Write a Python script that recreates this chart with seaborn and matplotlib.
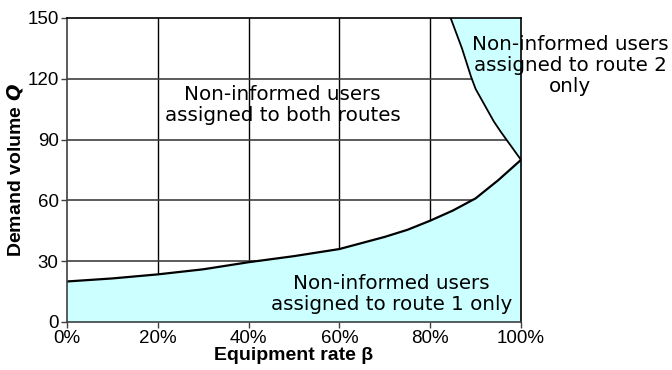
import matplotlib
matplotlib.use("Agg")
import matplotlib.pyplot as plt
import seaborn as sns
import pandas as pd

# Data
beta_low = [0, 10, 20, 30, 40, 50, 60, 65, 70, 75, 80, 85, 90, 95, 100]
q_low = [20, 21.5, 23.5, 26, 29.5, 32.5, 36, 39, 42, 45.5, 50, 55, 61, 70, 80]
beta_up = [84.5, 87, 89, 90, 92, 94, 95.5, 100]
q_up = [150, 135, 121, 115, 107, 99, 94, 80]
x_ticks = [0, 20, 40, 60, 80, 100]
x_tick_labels = ["0%", "20%", "40%", "60%", "80%", "100%"]
y_ticks = [0, 30, 60, 90, 120, 150]

label_both = "Non-informed users\nassigned to both routes"
label_r1 = "Non-informed users\nassigned to route 1 only"
label_r2 = "Non-informed users\nassigned to route 2\nonly"

sns.set_theme(style="white")
plt.rcParams["font.family"] = ["Liberation Sans", "DejaVu Sans"]

fig = plt.figure(figsize=(6.72, 3.70), dpi=100)
ax = fig.add_axes([67 / 672, 48 / 370, 454 / 672, 304 / 370])

df_low = pd.DataFrame({"beta": beta_low, "Q": q_low})
df_up = pd.DataFrame({"beta": beta_up, "Q": q_up})

fill_c = "#CCFFFF"
ax.fill_between(df_low["beta"], 0, df_low["Q"], color=fill_c, zorder=2, lw=0)
ax.fill_betweenx(df_up["Q"], df_up["beta"], 100, color=fill_c, zorder=2, lw=0)

sns.lineplot(data=df_low, x="beta", y="Q", ax=ax, color="black", lw=1.6, zorder=3)
sns.lineplot(data=df_up, x="beta", y="Q", ax=ax, color="black", lw=1.3, zorder=3,
             sort=False)

ax.set_xlim(0, 100)
ax.set_ylim(0, 150)
ax.set_xticks(x_ticks)
ax.set_xticklabels(x_tick_labels)
ax.set_yticks(y_ticks)

for x in x_ticks[1:-1]:
    ax.axvline(x, color="black", lw=1.0, zorder=1)
for y in y_ticks[1:-1]:
    ax.axhline(y, color="#404040", lw=1.2, zorder=1)

for s in ax.spines.values():
    s.set_color("black")
    s.set_linewidth(1.2)
    s.set_zorder(4)
ax.spines["left"].set_color("#404040")
ax.spines["bottom"].set_color("#404040")

ax.tick_params(axis="both", which="major", direction="out", length=4, width=1,
               color="#404040", labelsize=13.5, pad=2, left=True, bottom=True,
               labelcolor="black")

ax.set_xlabel("Equipment rate \u03b2", fontsize=14, fontweight="bold", labelpad=0,
              color="black")
ax.set_ylabel(r"Demand volume $\mathbfit{Q}$", fontsize=14, fontweight="bold",
              labelpad=2, color="black")

tfont = dict(family=["DejaVu Sans"], fontsize=14.3, color="black",
             ha="center", va="center", linespacing=1.15, zorder=5)
ax.text(47.5, 107, label_both, **tfont)
ax.text(71.5, 14, label_r1, **tfont)
ax.text(110.8, 126.5, label_r2, clip_on=False, **tfont)

fig.savefig("out.png", dpi=100)
